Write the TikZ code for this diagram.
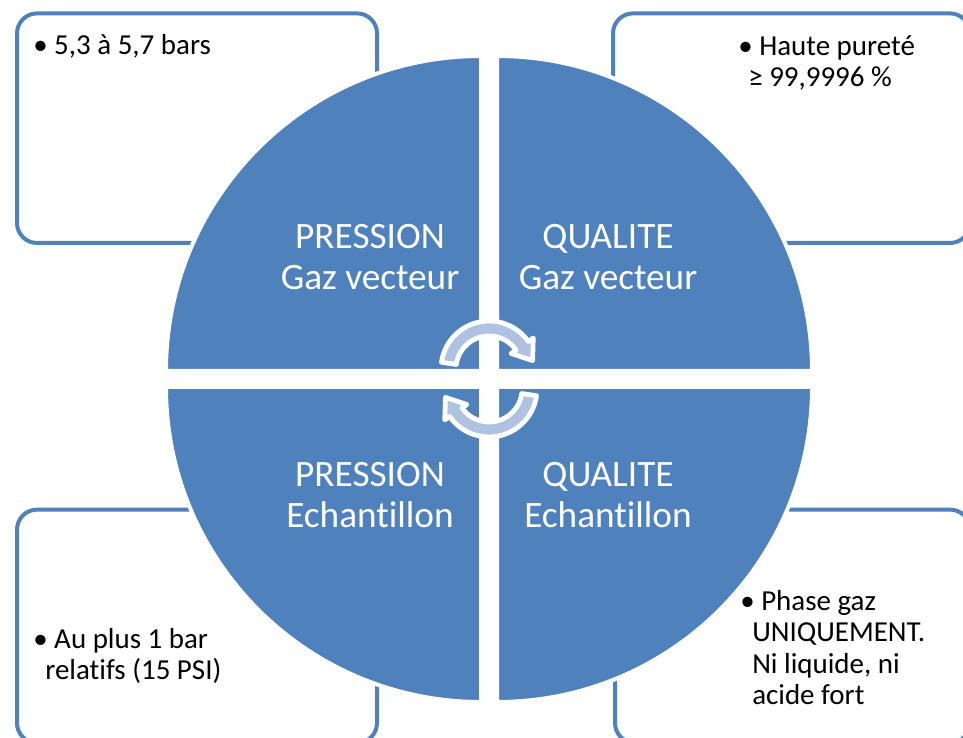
\documentclass[tikz,border=0pt]{standalone}
\usepackage{fontspec}
\setmainfont{Carlito}[Ligatures=NoCommon]
\usetikzlibrary{calc,positioning}
\definecolor{Blue}{HTML}{4F81BD}
\definecolor{ArrowFill}{HTML}{AFC2E2}
\tikzset{quad/.style={fill=Blue,draw=white,line width=.1cm},infobox/.style={rounded corners=.5cm,draw=Blue,line width=.1cm,fill=white,anchor=south west},quadtext/.style={text=white,align=center,inner sep=0pt,anchor=base,font=\fontsize{26.5}{29.5}\selectfont},bullettext/.style={align=left,inner sep=0pt,anchor=base west,font=\fontsize{20.6}{22.5}\selectfont},cycarrow/.style={fill=ArrowFill,draw=white,line width=.12cm,line join=round}}

\begin{document}
\begin{tikzpicture}
      \useasboundingbox (0,0) rectangle (24.075,18.45);
      % note boxes behind the circle
      \node[infobox,minimum width=9cm,minimum height=5.74cm](pgBox) at (.375,12.325){};
      \node[infobox,minimum width=8.925cm,minimum height=5.74cm](qgBox) at (15.275,12.325){};
      \node[infobox,minimum width=9cm,minimum height=5.835cm](peBox) at (.375,-.175){};
      \node[infobox,minimum width=8.875cm,minimum height=5.835cm](qeBox) at (15.325,-.175){};
      \coordinate (mid) at (12.225,8.975);
      \foreach \a/\sx/\sy in {90/-1/1,0/1/1,-90/1/-1,180/-1/-1}
        \draw[quad] ($(mid)+(\sx*.2,\sy*.2)$) -- ++(\a:7.875) arc[start angle=\a,delta angle=90,radius=7.875] -- cycle;
      % the two curved arrows
      \foreach \r/\dy in {0/.25,180/-.25}
        \draw[cycarrow,shift={($(mid)+(0,\dy)$)},rotate=\r] (172:1.2) arc[start angle=172,end angle=35,radius=1.2] -- (35:1.35) -- (1.09,.21) -- (35:.675) -- (35:.825) arc[start angle=35,end angle=172,radius=.825] -- cycle;
      \node[quadtext](pgLabel) at (9.25,11.2){PRESSION\\Gaz vecteur};
      \node[quadtext](qgLabel) at (15.2,11.2){QUALITE\\Gaz vecteur};
      \node[quadtext](peLabel) at (9.25,5.25){PRESSION\\Echantillon};
      \node[quadtext](qeLabel) at (15.2,5.25){QUALITE\\Echantillon};
      \node[bullettext](pgNote) at (.825,17.075){\textbullet\ 5,3 à 5,7 bars};
      \node[bullettext](qgNote) at (18.45,16.275){\textbullet\ Haute pureté\\\hspace*{.25cm}≥ 99,9996 \%};
      \node[bullettext](peNote) at (.825,1.45){\textbullet\ Au plus 1 bar\\\hspace*{.3cm}relatifs (15 PSI)};
      \node[bullettext](qeNote) at (18.5,.825){\textbullet\ Phase gaz\\\hspace*{.3cm}UNIQUEMENT.\\\hspace*{.3cm}Ni liquide, ni\\\hspace*{.3cm}acide fort};
    \end{tikzpicture}
\end{document}
